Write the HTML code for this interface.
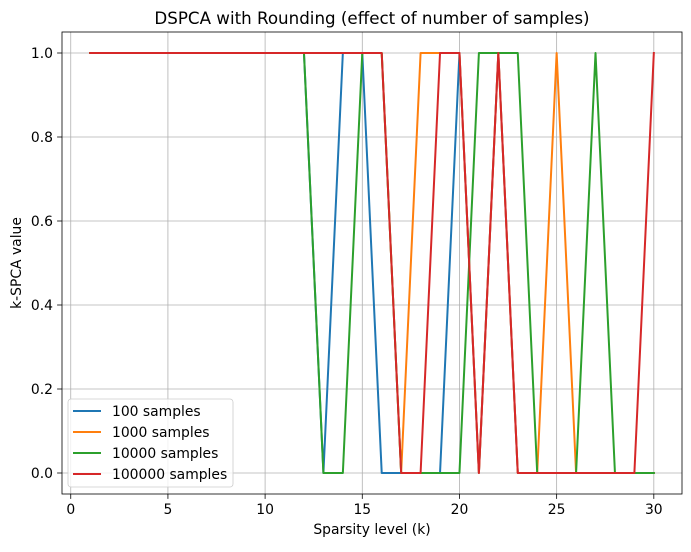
<!DOCTYPE html>
<html><head><meta charset="utf-8"><style>
body{margin:0;background:#fff;font-family:"Liberation Sans","DejaVu Sans",sans-serif}
svg text{font-family:"DejaVu Sans","Liberation Sans",sans-serif}
</style></head><body>
<svg id="chart" width="691" height="547" xmlns="http://www.w3.org/2000/svg"></svg>
<script>
const ks = [1,2,3,4,5,6,7,8,9,10,11,12,13,14,15,16,17,18,19,20,21,22,23,24,25,26,27,28,29,30];
const s100    = [1,1,1,1,1,1,1,1,1,1,1,1,0,1,1,0,0,0,0,1,0,1,0,0,0,0,0,0,0,0];
const s1000   = [1,1,1,1,1,1,1,1,1,1,1,1,1,1,1,1,0,1,1,1,0,1,0,0,1,0,0,0,0,0];
const s10000  = [1,1,1,1,1,1,1,1,1,1,1,1,0,0,1,1,0,0,0,0,1,1,1,0,0,0,1,0,0,0];
const s100000 = [1,1,1,1,1,1,1,1,1,1,1,1,1,1,1,1,0,0,1,1,0,1,0,0,0,0,0,0,0,1];
const seriesNames = ["100 samples","1000 samples","10000 samples","100000 samples"];
const xTicks = [0,5,10,15,20,25,30];
const yTicks = [0.0,0.2,0.4,0.6,0.8,1.0];
const colors = ["#1f77b4","#ff7f0e","#2ca02c","#d62728"];
const allSeries = [s100,s1000,s10000,s100000];

const L=62,R=682,T=32,B=494;
const xmin=-0.45,xmax=31.45,ymin=-0.05,ymax=1.05;
const X=v=>L+(v-xmin)/(xmax-xmin)*(R-L);
const Y=v=>B-(v-ymin)/(ymax-ymin)*(B-T);
const svg=document.getElementById('chart');
const NS="http://www.w3.org/2000/svg";
function mk(tag,attrs,parent){const e=document.createElementNS(NS,tag);for(const k in attrs)e.setAttribute(k,attrs[k]);(parent||svg).appendChild(e);return e;}

xTicks.forEach(t=>{
  const g=mk('line',{x1:X(t),x2:X(t),y1:T,y2:B,stroke:'#b0b0b0','stroke-width':0.8});
  
  
  const tk=mk('line',{x1:X(t),x2:X(t),y1:B,y2:B+4.9,stroke:'#000','stroke-width':0.8});
  
  
  const tx=mk('text',{x:X(t),y:B+20,'text-anchor':'middle','font-size':13.9});
  tx.textContent=t;
  
  
});
yTicks.forEach(t=>{
  const g=mk('line',{x1:L,x2:R,y1:Y(t),y2:Y(t),stroke:'#b0b0b0','stroke-width':0.8});
  
  
  const tk=mk('line',{x1:L-4.9,x2:L,y1:Y(t),y2:Y(t),stroke:'#000','stroke-width':0.8});
  
  
  const tx=mk('text',{x:L-9,y:Y(t)+5,'text-anchor':'end','font-size':13.9});
  tx.textContent=t.toFixed(1);
  
  
});

allSeries.forEach((s,i)=>{
  const pts=s.map((v,j)=>X(ks[j]).toFixed(2)+','+Y(v).toFixed(2)).join(' ');
  const p=mk('polyline',{points:pts,fill:'none',stroke:colors[i],'stroke-width':2,'stroke-linejoin':'round','stroke-linecap':'square'});
  
  
});

const fr=mk('rect',{x:L,y:T,width:R-L,height:B-T,fill:'none',stroke:'#000','stroke-width':0.8});



const ti=mk('text',{x:(L+R)/2,y:24,'text-anchor':'middle','font-size':16.7});
ti.textContent='DSPCA with Rounding (effect of number of samples)';


const xl=mk('text',{x:(L+R)/2,y:534,'text-anchor':'middle','font-size':13.9});
xl.textContent='Sparsity level (k)';


const yl=mk('text',{x:21,y:(T+B)/2,'text-anchor':'middle','font-size':13.9,transform:'rotate(-90 21 '+(T+B)/2+')'});
yl.textContent='k-SPCA value';



const lg=mk('g',{});


mk('rect',{x:68,y:399,width:165,height:88,rx:3,fill:'#fff','fill-opacity':0.8,stroke:'#ccc','stroke-width':0.8},lg);
seriesNames.forEach((n,i)=>{
  const y=411+i*21;
  const e=mk('g',{},lg);
  
  
  mk('line',{x1:73,x2:101,y1:y,y2:y,stroke:colors[i],'stroke-width':2},e);
  const t=mk('text',{x:112,y:y+5,'font-size':13.9},e);
  t.textContent=n;
});
</script>
</body></html>
